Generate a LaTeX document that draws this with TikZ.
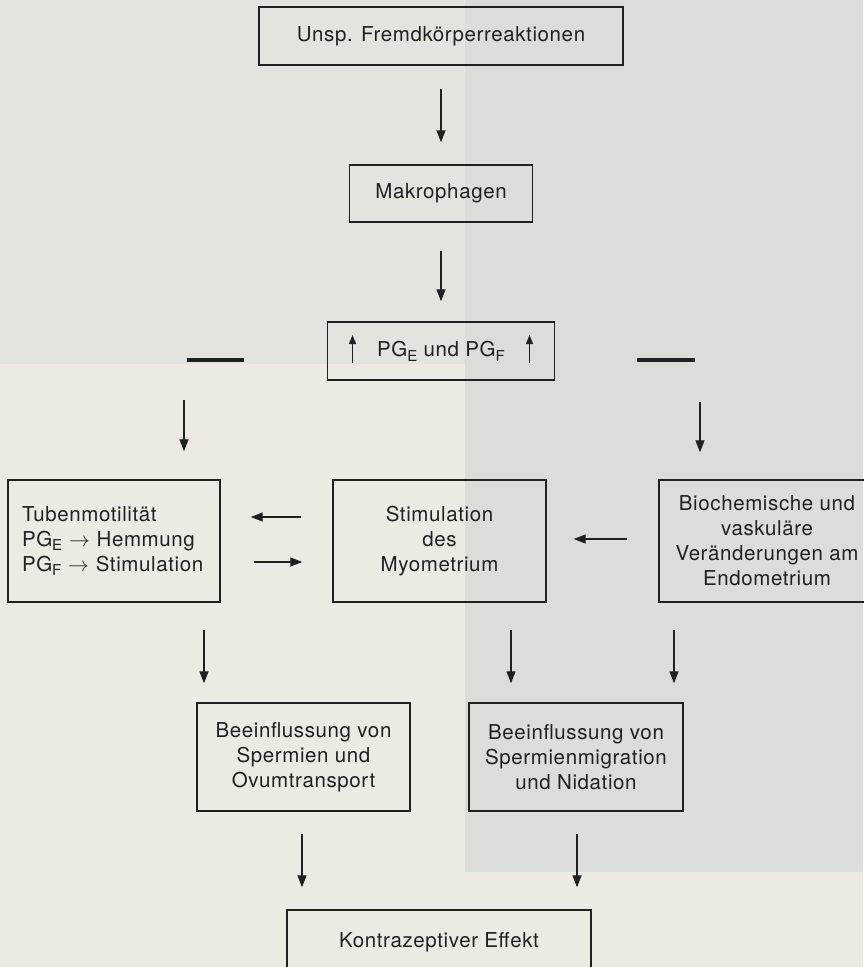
\documentclass[tikz,border=0pt]{standalone}
\usepackage{fontspec}
\setmainfont{TeX Gyre Heros}[LetterSpace=3]
\usepackage{amsmath}
\usetikzlibrary{arrows.meta}
\definecolor{ink}{RGB}{32,32,32}
\definecolor{paper}{RGB}{236,234,226}
\definecolor{paperdark}{RGB}{219,221,217}
\definecolor{paperlight}{RGB}{228,228,223}
\newcommand{\lowidx}[1]{\raisebox{-0.45ex}{\fontsize{15}{15}\selectfont #1}}

\begin{document}
\begin{tikzpicture}[x=1pt, y=-1pt,
    box/.style={draw=ink, line width=1.4pt, inner sep=0pt, align=center, text=ink,
        font=\fontsize{20.5}{25}\selectfont},
    arr/.style={-{Triangle[length=12pt,width=9pt]}, line width=1.3pt, draw=ink},
    smallarr/.style={-{Triangle[length=9pt,width=7pt]}, line width=1.3pt, draw=ink},
    bar/.style={line width=3.5pt, draw=ink}]
    \useasboundingbox (0,0) rectangle (863,967);
    \fill[paper] (0,0) rectangle (863,967);
    \fill[paperdark] (465,0) rectangle (863,872);
    \fill[paperlight] (0,0) rectangle (465,364);

    \node[box, minimum width=364pt, minimum height=58pt] (frk) at (441,36) {Unsp. Fremdkörperreaktionen};
    \node[box, minimum width=183pt, minimum height=57pt] (mak) at (441,193.5) {Makrophagen};
    \node[box, minimum width=227pt, minimum height=58pt] (pg) at (441,351) {PG\lowidx{E} und PG\lowidx{F}};
    \node[box, minimum width=212pt, minimum height=122pt, text width=184pt, align=left] (tub) at (114,541)
        {Tubenmotilität\\PG\lowidx{E} $\rightarrow$ Hemmung\\PG\lowidx{F} $\rightarrow$ Stimulation};
    \node[box, minimum width=213pt, minimum height=122pt] (stim) at (439.5,541) {Stimulation\\des\\Myometrium};
    \node[box, minimum width=216pt, minimum height=122pt] (bio) at (767,541)
        {Biochemische und\\vaskuläre\\Veränderungen am\\Endometrium};
    \node[box, minimum width=213pt, minimum height=108pt] (spo) at (303.5,757)
        {Beeinflussung von\\Spermien und\\Ovumtransport};
    \node[box, minimum width=214pt, minimum height=108pt] (spn) at (576,757)
        {Beeinflussung von\\Spermienmigration\\und Nidation};
    \node[box, minimum width=304pt, minimum height=64pt] (kon) at (439,942) {Kontrazeptiver Effekt};

    \coordinate (lb1) at (187,360);
    \coordinate (lb2) at (244,360);
    \coordinate (rb1) at (637,360);
    \coordinate (rb2) at (695,360);
    \coordinate (lv) at (184,400);
    \coordinate (rv) at (700,402);

    % main chain
    \draw[arr, shorten <=23pt, shorten >=22pt] (frk.south) -- (mak.north);
    \draw[arr, shorten <=28pt, shorten >=20pt] (mak.south) -- (pg.north);
    \draw[smallarr] ([shift={(-88.5,12)}]pg.center) -- ++(0,-28);
    \draw[smallarr] ([shift={(88.5,12)}]pg.center) -- ++(0,-28);

    % branches
    \draw[bar] (lb1) -- (lb2);
    \draw[bar] (rb1) -- (rb2);
    \draw[arr, shorten >=28pt] (lv) -- (lv |- tub.north);
    \draw[arr, shorten >=27pt] (rv) -- (rv |- bio.north);

    \draw[arr, shorten <=31pt, shorten >=30pt] ([yshift=24pt]stim.west) -- ([yshift=24pt]tub.east);
    \draw[arr, shorten <=33pt, shorten >=30pt] ([yshift=-21pt]tub.east) -- ([yshift=-21pt]stim.west);
    \draw[arr, shorten <=31pt, shorten >=27pt] ([yshift=2pt]bio.west) -- ([yshift=2pt]stim.east);

    \draw[arr, shorten <=27pt, shorten >=19pt] ([xshift=90pt]tub.south) -- ([xshift=90pt]tub.south |- spo.north);
    \draw[arr, shorten <=27pt, shorten >=19pt] ([xshift=71.5pt]stim.south) -- ([xshift=71.5pt]stim.south |- spn.north);
    \draw[arr, shorten <=27pt, shorten >=19pt] ([xshift=-93pt]bio.south) -- ([xshift=-93pt]bio.south |- spn.north);

    \draw[arr, shorten <=22pt, shorten >=22pt] ([xshift=-1.5pt]spo.south) -- ([xshift=-1.5pt]spo.south |- kon.north);
    \draw[arr, shorten <=22pt, shorten >=22pt] ([xshift=1pt]spn.south) -- ([xshift=1pt]spn.south |- kon.north);
\end{tikzpicture}
\end{document}
